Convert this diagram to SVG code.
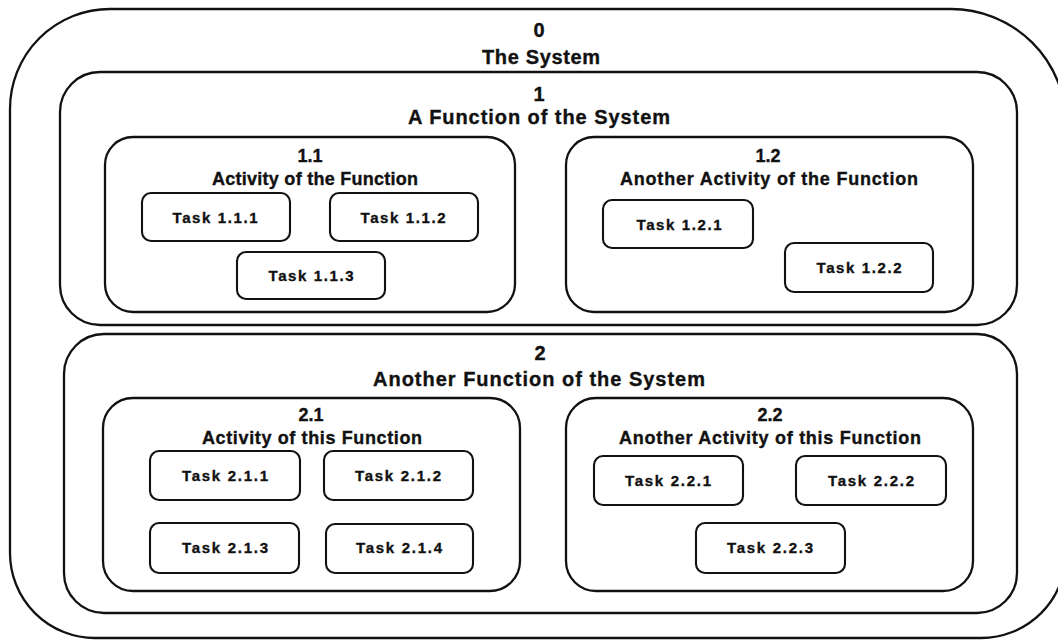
<svg xmlns="http://www.w3.org/2000/svg" width="1058" height="640" viewBox="0 0 1058 640">
<style>
.box{fill:none;stroke:#111;stroke-width:2.3}
.task{fill:none;stroke:#111;stroke-width:2.1}
text{font-family:"Liberation Sans",Arial,sans-serif;font-weight:bold;fill:#111;stroke:#111;stroke-width:0.35;text-anchor:middle}
.t0{font-size:20px}
.t1{font-size:18px}
.tk{font-size:15px}
</style>
<rect x="0" y="0" width="1058" height="640" fill="#fff"/>
<g id="connectors"/>
<g id="n0">
<path class="box" d="M110,9 H951 A115,115 0 0 1 1066,124 V553 A85,85 0 0 1 981,638 H95 A85,85 0 0 1 10,553 V109 A100,100 0 0 1 110,9 Z"/>
<text class="t0" x="539" y="37">0</text>
<text class="t0" x="541" y="64" textLength="118" lengthAdjust="spacing">The System</text>
</g>
<g id="n1">
<rect class="box" x="60" y="72" width="957" height="253" rx="40"/>
<text class="t0" x="539" y="101">1</text>
<text class="t0" x="539" y="124" textLength="262" lengthAdjust="spacing">A Function of the System</text>
</g>
<g id="n1_1">
<rect class="box" x="105" y="137" width="410" height="175" rx="28"/>
<text class="t1" x="310" y="162">1.1</text>
<text class="t1" x="315" y="185" textLength="206" lengthAdjust="spacing">Activity of the Function</text>
</g>
<g id="n1_1_1"><rect class="task" x="142" y="193" width="148" height="48" rx="9"/><text class="tk" x="215" y="223" textLength="85" lengthAdjust="spacing">Task 1.1.1</text></g>
<g id="n1_1_2"><rect class="task" x="330" y="193" width="148" height="48" rx="9"/><text class="tk" x="403" y="223" textLength="85" lengthAdjust="spacing">Task 1.1.2</text></g>
<g id="n1_1_3"><rect class="task" x="237" y="252" width="148" height="47" rx="9"/><text class="tk" x="311" y="281" textLength="85" lengthAdjust="spacing">Task 1.1.3</text></g>
<g id="n1_2">
<rect class="box" x="566" y="137" width="407" height="175" rx="28"/>
<text class="t1" x="768" y="162">1.2</text>
<text class="t1" x="769" y="185" textLength="298" lengthAdjust="spacing">Another Activity of the Function</text>
</g>
<g id="n1_2_1"><rect class="task" x="603" y="200" width="150" height="48" rx="9"/><text class="tk" x="679" y="230" textLength="85" lengthAdjust="spacing">Task 1.2.1</text></g>
<g id="n1_2_2"><rect class="task" x="785" y="243" width="148" height="49" rx="9"/><text class="tk" x="859" y="273" textLength="85" lengthAdjust="spacing">Task 1.2.2</text></g>
<g id="n2">
<rect class="box" x="64" y="334" width="953" height="279" rx="40"/>
<text class="t0" x="540" y="360">2</text>
<text class="t0" x="539" y="386" textLength="332" lengthAdjust="spacing">Another Function of the System</text>
</g>
<g id="n2_1">
<rect class="box" x="103" y="398" width="417" height="193" rx="30"/>
<text class="t1" x="311" y="421">2.1</text>
<text class="t1" x="312" y="444" textLength="220" lengthAdjust="spacing">Activity of this Function</text>
</g>
<g id="n2_1_1"><rect class="task" x="150" y="451" width="150" height="49" rx="9"/><text class="tk" x="225" y="481" textLength="86" lengthAdjust="spacing">Task 2.1.1</text></g>
<g id="n2_1_2"><rect class="task" x="324" y="451" width="149" height="49" rx="9"/><text class="tk" x="398" y="481" textLength="86" lengthAdjust="spacing">Task 2.1.2</text></g>
<g id="n2_1_3"><rect class="task" x="150" y="523" width="149" height="50" rx="9"/><text class="tk" x="225" y="553" textLength="86" lengthAdjust="spacing">Task 2.1.3</text></g>
<g id="n2_1_4"><rect class="task" x="326" y="524" width="147" height="49" rx="9"/><text class="tk" x="399" y="553" textLength="86" lengthAdjust="spacing">Task 2.1.4</text></g>
<g id="n2_2">
<rect class="box" x="566" y="398" width="407" height="193" rx="30"/>
<text class="t1" x="770" y="421">2.2</text>
<text class="t1" x="770" y="444" textLength="302" lengthAdjust="spacing">Another Activity of this Function</text>
</g>
<g id="n2_2_1"><rect class="task" x="594" y="456" width="149" height="49" rx="9"/><text class="tk" x="668" y="486" textLength="86" lengthAdjust="spacing">Task 2.2.1</text></g>
<g id="n2_2_2"><rect class="task" x="796" y="456" width="150" height="49" rx="9"/><text class="tk" x="871" y="486" textLength="86" lengthAdjust="spacing">Task 2.2.2</text></g>
<g id="n2_2_3"><rect class="task" x="696" y="523" width="149" height="50" rx="9"/><text class="tk" x="770" y="553" textLength="86" lengthAdjust="spacing">Task 2.2.3</text></g>
</svg>
